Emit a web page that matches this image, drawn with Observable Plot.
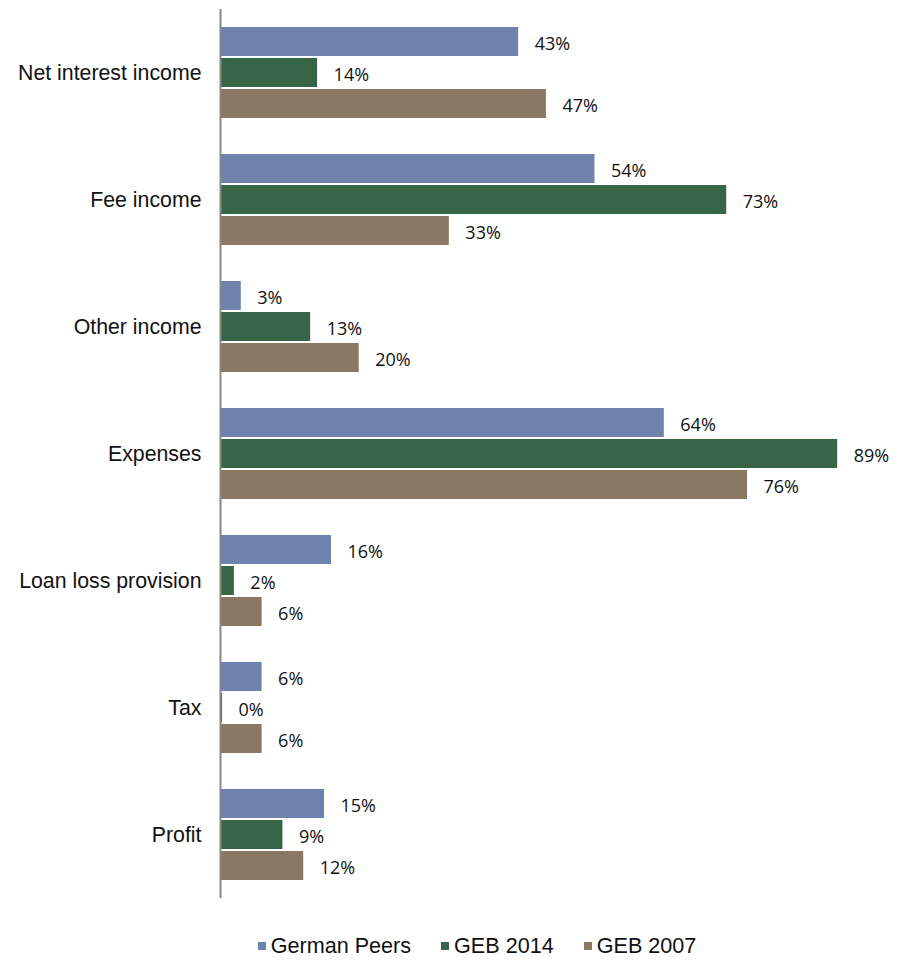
<!DOCTYPE html>
<html>
<head>
<meta charset="utf-8">
<script src="https://cdn.jsdelivr.net/npm/d3@7"></script>
<script src="https://cdn.jsdelivr.net/npm/@observablehq/plot@0.6"></script>
<style>
  html, body { margin: 0; padding: 0; background: #fff; }
  #chart { width: 910px; }
  .legend { display: flex; justify-content: center; align-items: center; gap: 30px;
            font-family: "Liberation Sans", Arial, sans-serif; font-size: 21.6px; color: #111;
            height: 50px; padding-left: 44px; padding-top: 22px; box-sizing: border-box; }
  .legend .item { display: flex; align-items: center; }
  .legend .sw { width: 8px; height: 8px; margin-right: 5px; display: inline-block; }
</style>
</head>
<body>
<div id="chart"></div>
<script>
const categories = ["Net interest income", "Fee income", "Other income", "Expenses", "Loan loss provision", "Tax", "Profit"];
const series = ["German Peers", "GEB 2014", "GEB 2007"];
const germanPeers = [43, 54, 3, 64, 16, 6, 15];
const geb2014 = [14, 73, 13, 89, 2, 0.3, 9];
const geb2007 = [47, 33, 20, 76, 6, 6, 12];
const colors = ["#6F82AE", "#366548", "#8A7865"];

const seriesValues = [germanPeers, geb2014, geb2007];
const data = [];
categories.forEach((c, i) => {
  series.forEach((s, j) => data.push({category: c, series: s, value: seriesValues[j][i]}));
});

const chart = Plot.plot({
  width: 910,
  height: 910,
  marginLeft: 220,
  marginRight: 0,
  marginTop: 6,
  marginBottom: 10,
  style: {fontFamily: "'Liberation Sans', Arial, sans-serif", background: "#fff"},
  x: {domain: [0, 99.5], axis: null},
  fy: {domain: categories, padding: 0, axis: null},
  y: {domain: series, paddingInner: 0.05, paddingOuter: 0.54, axis: null},
  color: {domain: series, range: colors},
  marks: [
    Plot.barX(data, {fy: "category", y: "series", x: "value", fill: "series", insetLeft: 1}),
    Plot.text(data, {fy: "category", y: "series", x: "value", text: d => Math.round(d.value) + "%",
      dx: 16, dy: 2, textAnchor: "start", fontSize: 18, fill: "#111",
      fontFamily: "'Open Sans', sans-serif", style: "letter-spacing: 1px"}),
    Plot.axisFy({anchor: "left", tickSize: 0, tickPadding: 19, fontSize: 21.3, label: null, fill: "#111"}),
    Plot.ruleX([0], {stroke: "#878787", strokeWidth: 2})
  ]
});
document.getElementById("chart").appendChild(chart);

const legend = document.createElement("div");
legend.className = "legend";
series.forEach((s, j) => {
  const item = document.createElement("span");
  item.className = "item";
  const sw = document.createElement("span");
  sw.className = "sw";
  sw.style.background = colors[j];
  item.appendChild(sw);
  item.appendChild(document.createTextNode(s));
  legend.appendChild(item);
});
document.getElementById("chart").appendChild(legend);
</script>
</body>
</html>
